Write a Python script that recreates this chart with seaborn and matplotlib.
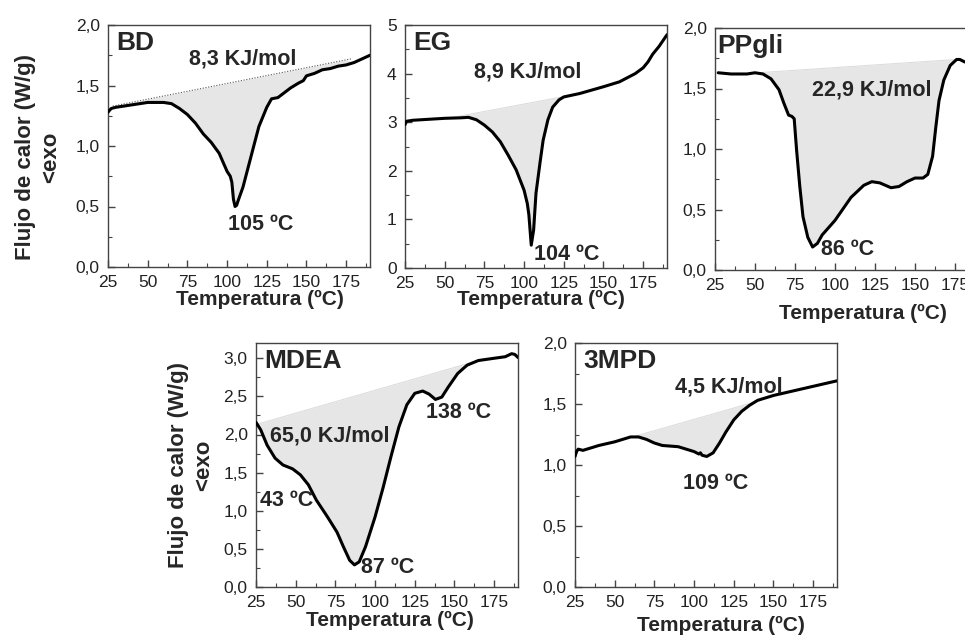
import numpy as np
import pandas as pd
import seaborn as sns
import matplotlib
matplotlib.use("Agg")
import matplotlib.pyplot as plt

# ---------------- data ----------------
x_ticks = [25, 50, 75, 100, 125, 150, 175]
x_ticklabels = ["25", "50", "75", "100", "125", "150", "175"]

# BD
bd_T = [25, 27, 30, 40, 50, 60, 65, 70, 75, 80, 85, 90, 95, 100, 102, 103, 104, 105, 106, 107, 110,
        115, 120, 125, 128, 132, 136, 140, 145, 148, 150, 155, 160, 165, 170, 175, 180, 185, 190]
bd_v = [1.28, 1.31, 1.32, 1.34, 1.36, 1.36, 1.35, 1.31, 1.26, 1.19, 1.10, 1.03, 0.94, 0.79, 0.75, 0.70, 0.56,
        0.50, 0.51, 0.55, 0.66, 0.91, 1.16, 1.32, 1.39, 1.40, 1.44, 1.48, 1.52, 1.54, 1.58, 1.60, 1.63, 1.64,
        1.66, 1.67, 1.69, 1.72, 1.75]
bd_base_T = [28, 178]
bd_base_v = [1.33, 1.72]

# EG
eg_T = [25, 26, 30, 40, 50, 60, 65, 70, 75, 80, 85, 90, 95, 100, 102, 103, 104.5, 106, 107.5, 110, 112,
        115, 118, 122, 125, 135, 150, 160, 170, 175, 178, 181, 185, 190]
eg_v = [2.95, 3.02, 3.04, 3.06, 3.08, 3.09, 3.10, 3.05, 2.94, 2.80, 2.60, 2.32, 2.02, 1.60, 1.33, 1.10,
        0.47, 0.78, 1.54, 2.16, 2.63, 3.05, 3.31, 3.46, 3.52, 3.59, 3.73, 3.83, 4.00, 4.12, 4.24, 4.40,
        4.56, 4.80]
eg_base_T = [52, 132]
eg_base_v = [3.08, 3.57]

# PPgli
pp_T = [27, 35, 45, 50, 55, 60, 65, 68, 71, 73, 74.5, 76, 78, 80, 83, 86, 89, 92, 100, 110, 118, 123,
        128, 135, 140, 145, 150, 155, 158, 161, 163, 165, 168, 172, 176, 178, 181, 188]
pp_v = [1.63, 1.62, 1.62, 1.63, 1.62, 1.58, 1.49, 1.38, 1.28, 1.27, 1.25, 0.99, 0.69, 0.44, 0.27, 0.19,
        0.22, 0.29, 0.41, 0.60, 0.70, 0.73, 0.72, 0.68, 0.69, 0.73, 0.76, 0.76, 0.79, 0.94, 1.18, 1.40,
        1.57, 1.69, 1.74, 1.74, 1.72, 1.70]
pp_base_T = [52, 176]
pp_base_v = [1.63, 1.74]

# MDEA
md_T = [25, 28, 32, 37, 42, 48, 53, 58, 63, 70, 76, 80, 84, 87, 90, 94, 100, 105, 110, 115, 120, 125,
        130, 134, 138, 142, 146, 152, 158, 165, 175, 182, 186, 188, 190]
md_v = [2.16, 2.06, 1.86, 1.69, 1.60, 1.55, 1.47, 1.34, 1.14, 0.92, 0.72, 0.53, 0.35, 0.29, 0.33, 0.53,
        0.92, 1.30, 1.71, 2.10, 2.39, 2.54, 2.57, 2.53, 2.46, 2.49, 2.62, 2.80, 2.91, 2.97, 3.00, 3.02,
        3.06, 3.05, 3.01]
md_base_T = [25, 170]
md_base_v = [2.13, 3.00]

# 3MPD
mp_T = [25, 26, 27, 30, 40, 50, 60, 65, 70, 75, 80, 90, 100, 103, 104, 105, 108, 112, 116, 120, 125,
        130, 135, 140, 150, 160, 170, 180, 190]
mp_v = [1.07, 1.11, 1.13, 1.12, 1.16, 1.19, 1.23, 1.23, 1.21, 1.18, 1.16, 1.15, 1.11, 1.09, 1.10, 1.08,
        1.07, 1.10, 1.18, 1.27, 1.37, 1.44, 1.49, 1.53, 1.57, 1.60, 1.63, 1.66, 1.69]
mp_base_T = [45, 142]
mp_base_v = [1.17, 1.53]

# ---------------- style ----------------
sns.set_style("ticks")
plt.rcParams["font.family"] = ["Liberation Sans", "DejaVu Sans"]
plt.rcParams["axes.edgecolor"] = "#444444"
plt.rcParams["axes.linewidth"] = 1.0
plt.rcParams["xtick.color"] = "#444444"
plt.rcParams["ytick.color"] = "#444444"
plt.rcParams["xtick.labelcolor"] = "#222222"
plt.rcParams["ytick.labelcolor"] = "#222222"

fig = plt.figure(figsize=(9.65, 6.36), dpi=100)
W, H = 965.0, 636.0


def make_ax(left, top, right, bottom):
    return fig.add_axes([left / W, 1 - bottom / H, (right - left) / W, (bottom - top) / H])


def draw(ax, T, v, bT, bv, ylim, yticks, yticklabels, yminor, name, base_style, name_x=0.03):
    df = pd.DataFrame({"T": T, "v": v})
    Tarr = np.array(T, dtype=float)
    varr = np.array(v, dtype=float)
    base = np.interp(Tarr, bT, bv)
    mask = (Tarr >= bT[0]) & (Tarr <= bT[1])
    ax.fill_between(Tarr, varr, base, where=mask & (varr <= base + 0.02), color="#e6e6e6",
                    linewidth=0, interpolate=True, zorder=1)
    if base_style == "dotted":
        ax.plot(bT, bv, linestyle=(0, (1, 1.5)), color="#555555", linewidth=0.8, zorder=2)
    else:
        ax.plot(bT, bv, linestyle="-", color="#dddddd", linewidth=0.8, zorder=2)
    sns.lineplot(data=df, x="T", y="v", ax=ax, color="black", linewidth=2.2, sort=False,
                 estimator=None, zorder=3)
    ax.set_xlim(25, 190)
    ax.set_ylim(*ylim)
    ax.set_xticks(x_ticks)
    ax.set_xticklabels(x_ticklabels)
    ax.set_xticks([37.5, 62.5, 87.5, 112.5, 137.5, 162.5, 187.5], minor=True)
    ax.set_yticks(yticks)
    ax.set_yticklabels(yticklabels)
    ax.set_yticks(yminor, minor=True)
    ax.tick_params(axis="both", which="major", direction="in", length=5, width=1, labelsize=12.5, pad=6)
    ax.tick_params(axis="both", which="minor", direction="in", length=3, width=0.8)
    for s in ax.spines.values():
        s.set_visible(True)
    ax.text(name_x, 0.975, name, transform=ax.transAxes, ha="left", va="top",
            fontsize=19, fontweight="bold")
    ax.set_xlabel("Temperatura (ºC)", fontsize=15, fontweight="bold")
    ax.set_ylabel("")


y2_ticks = [0.0, 0.5, 1.0, 1.5, 2.0]
y2_labels = ["0,0", "0,5", "1,0", "1,5", "2,0"]
y2_minor = [0.25, 0.75, 1.25, 1.75]
y5_ticks = [0, 1, 2, 3, 4, 5]
y5_labels = ["0", "1", "2", "3", "4", "5"]
y5_minor = [0.5, 1.5, 2.5, 3.5, 4.5]
y3_ticks = [0.0, 0.5, 1.0, 1.5, 2.0, 2.5, 3.0]
y3_labels = ["0,0", "0,5", "1,0", "1,5", "2,0", "2,5", "3,0"]
y3_minor = [0.25, 0.75, 1.25, 1.75, 2.25, 2.75]

ylab = "Flujo de calor (W/g)\n<exo"
tfont = dict(fontsize=15.5, fontweight="bold", ha="center", va="center")

# BD
ax1 = make_ax(108, 25, 370, 267)
draw(ax1, bd_T, bd_v, bd_base_T, bd_base_v, (0, 2.0), y2_ticks, y2_labels, y2_minor, "BD", "dotted")
ax1.text(110, 1.72, "8,3 KJ/mol", **tfont)
ax1.text(121, 0.35, "105 ºC", **tfont)
ax1.set_ylabel(ylab, fontsize=16, fontweight="bold", linespacing=1.25)
ax1.yaxis.set_label_coords(-0.18, 0.455)
ax1.xaxis.set_label_coords(0.58, -0.095)

# EG
ax2 = make_ax(405, 25, 667, 268)
draw(ax2, eg_T, eg_v, eg_base_T, eg_base_v, (0, 5), y5_ticks, y5_labels, y5_minor, "EG", "light")
ax2.text(102, 4.03, "8,9 KJ/mol", **tfont)
ax2.text(127, 0.27, "104 ºC", **tfont)
ax2.xaxis.set_label_coords(0.52, -0.09)

# PPgli
ax3 = make_ax(715, 28, 979, 270)
draw(ax3, pp_T, pp_v, pp_base_T, pp_base_v, (0, 2.0), y2_ticks, y2_labels, y2_minor, "PPgli", "light",
     name_x=0.01)
ax3.text(123, 1.49, "22,9 KJ/mol", **tfont)
ax3.text(108, 0.17, "86 ºC", **tfont)
ax3.xaxis.set_label_coords(0.56, -0.14)

# MDEA
ax4 = make_ax(256, 343, 518, 587)
draw(ax4, md_T, md_v, md_base_T, md_base_v, (0, 3.2), y3_ticks, y3_labels, y3_minor, "MDEA", "light")
ax4.text(71.6, 1.98, "65,0 KJ/mol", **tfont)
ax4.text(44.5, 1.13, "43 ºC", **tfont)
ax4.text(108, 0.25, "87 ºC", **tfont)
ax4.text(152.8, 2.29, "138 ºC", **tfont)
ax4.set_ylabel(ylab, fontsize=16, fontweight="bold", linespacing=1.25)
ax4.yaxis.set_label_coords(-0.16, 0.5)
ax4.xaxis.set_label_coords(0.51, -0.10)

# 3MPD
ax5 = make_ax(575, 343, 837, 587)
draw(ax5, mp_T, mp_v, mp_base_T, mp_base_v, (0, 2.0), y2_ticks, y2_labels, y2_minor, "3MPD", "light")
ax5.text(122, 1.64, "4,5 KJ/mol", **tfont)
ax5.text(113.8, 0.85, "109 ºC", **tfont)
ax5.xaxis.set_label_coords(0.557, -0.12)

fig.savefig("out.png", dpi=100)
